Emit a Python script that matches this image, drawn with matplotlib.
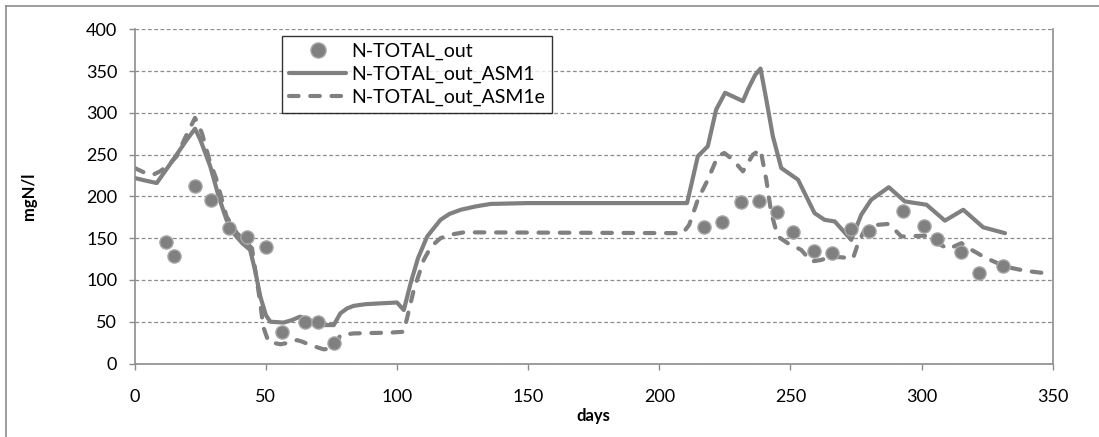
import matplotlib
matplotlib.use("Agg")
import matplotlib.pyplot as plt
from matplotlib.lines import Line2D

plt.rcParams['font.family'] = ['Lato', 'DejaVu Sans']

# Observed data
obs_days = [12, 15, 23, 29, 36, 43, 50, 56, 65, 70, 76,
            217, 224, 231, 238, 245, 251, 259, 266, 273, 280,
            293, 301, 306, 315, 322, 331]
obs_vals = [145, 129, 213, 196, 162, 151, 139, 38, 50, 50, 24,
            163, 169, 193, 195, 181, 157, 135, 132, 161, 159,
            183, 165, 149, 134, 108, 117]

# ASM1 model
asm1_days = [0, 4, 8.4, 14.7, 19.9, 23, 25, 28.8, 32, 35, 37.7, 41, 44, 46, 47.9,
             50, 51.7, 56.8, 60, 63, 66, 70.8, 75.9, 78.4, 81, 83.5, 88, 93.7, 100,
             102.6, 105.2, 108, 111.5, 116.6, 120, 124.3, 130, 135.7, 150, 210.6,
             214.7, 218.5, 221.7, 225.1, 231.9, 233.8, 236.5, 238.6, 240.8, 243.3,
             246.5, 252.9, 259.2, 263, 266.9, 273.2, 277, 280.8, 287.5, 293.6,
             301.9, 308.9, 315.9, 323.5, 331.8]
asm1_vals = [222, 219, 216, 244, 268, 281, 268, 236, 200, 172, 156, 144, 136, 110, 80,
             58, 50, 49, 52, 56, 53, 46, 46, 60, 66, 69, 71, 72, 73,
             64, 96, 126, 152, 172, 179, 184, 188, 191, 192, 192,
             248, 260, 304, 324, 314, 328, 345, 353, 316, 272,
             234, 220, 180, 172, 170, 148, 178, 196, 211, 194,
             190, 171, 184, 163, 156]

# ASM1e model
asm1e_days = [0, 4, 7, 9.7, 13, 16, 19.2, 23, 25.6, 28.8, 31, 35, 39, 44.7, 47.9,
              49, 51, 55.5, 59, 61.9, 64, 67, 72, 75.9, 78.4, 83.5, 97.5, 102.6,
              106.4, 110.2, 113, 116.6, 120, 125.5, 209, 211.4, 214.7, 218.5, 222.3,
              224.8, 228, 231.9, 235.7, 238.6, 240.8, 242.7, 245.2, 249, 254.1, 258,
              261.8, 265.6, 273.9, 275.8, 278.3, 283.4, 287.2, 289.8, 292.3, 301.2,
              305, 310.2, 313, 315.2, 319.1, 324.1, 331.8, 339.4, 350]
asm1e_vals = [234, 228, 226, 230, 238, 248, 270, 294, 276, 240, 222, 176, 156, 138, 72,
              44, 26, 23, 25, 28, 26, 22, 17, 18, 34, 36, 37, 38,
              88, 124, 140, 150, 154, 157, 156, 166, 196, 220, 248,
              252, 244, 230, 250, 256, 220, 180, 152, 144, 136, 122,
              124, 128, 126, 144, 160, 166, 167, 160, 152, 153,
              146, 137, 141, 144, 136, 127, 116, 111, 107]

W, H = 1099, 437
fig = plt.figure(figsize=(W / 100, H / 100), dpi=100)
ax_left, ax_right, ax_top, ax_bottom = 134.7, 1052.7, 29.3, 363.5
ax = fig.add_axes([ax_left / W, 1 - ax_bottom / H, (ax_right - ax_left) / W,
                   (ax_bottom - ax_top) / H])

gray = '#808080'
ax.plot(obs_days, obs_vals, linestyle='none', marker='o', markersize=9.5,
        markerfacecolor=gray, markeredgecolor='#a8a8a8', markeredgewidth=1.0,
        label='N-TOTAL_out', zorder=3)
ax.plot(asm1_days, asm1_vals, color=gray, linewidth=3.0, solid_joinstyle='round',
        solid_capstyle='round', label='N-TOTAL_out_ASM1', zorder=2)
ax.plot(asm1e_days, asm1e_vals, color=gray, linewidth=3.0, linestyle=(0, (2.3, 2.8)),
        dash_capstyle='round', dash_joinstyle='round', label='N-TOTAL_out_ASM1e', zorder=2)

ax.set_xlim(0, 350)
ax.set_ylim(0, 400)
ax.set_xticks(range(0, 351, 50))
ax.set_yticks(range(0, 401, 50))
ax.grid(axis='y', color='#8c8c8c', linestyle=(0, (3, 2)), linewidth=0.9)
ax.set_axisbelow(True)

ax.spines['top'].set_visible(False)
for s in ['left', 'bottom', 'right']:
    ax.spines[s].set_color('#8c8c8c')
    ax.spines[s].set_linewidth(1.2)

ax.tick_params(axis='both', direction='out', length=4.5, color='#8c8c8c', width=1.0,
               labelsize=13, labelcolor='black')
ax.tick_params(axis='y', pad=8)
ax.tick_params(axis='x', pad=14)

ax.set_xlabel('days', fontsize=12, fontweight='bold')
ax.set_ylabel('mgN/l', fontsize=12, fontweight='bold')
ax.xaxis.label.set_va('center')
ax.yaxis.label.set_va('center')
ax.xaxis.set_label_coords(0.5, (ax_bottom - 416) / (ax_bottom - ax_top))
ax.yaxis.set_label_coords((29 - ax_left) / (ax_right - ax_left), 0.5)

leg = ax.legend(loc='upper left', bbox_to_anchor=((282.3 - ax_left) / (ax_right - ax_left),
                                                   (ax_bottom - 36) / (ax_bottom - ax_top)),
                borderaxespad=0, fontsize=14, frameon=True, fancybox=False,
                handlelength=2.95, handletextpad=0.26, labelspacing=0.3, borderpad=0.35,
                markerscale=1.15)
leg.get_frame().set_edgecolor('black')
leg.get_frame().set_linewidth(1.0)

# Chart-area border (top and left visible)
fig.add_artist(Line2D([6 / W, 1], [1 - 5.5 / H, 1 - 5.5 / H], transform=fig.transFigure,
                      color='#8c8c8c', linewidth=1.2))
fig.add_artist(Line2D([6 / W, 6 / W], [0, 1 - 5.5 / H], transform=fig.transFigure,
                      color='#8c8c8c', linewidth=1.2))

fig.savefig('out.png', dpi=100)
